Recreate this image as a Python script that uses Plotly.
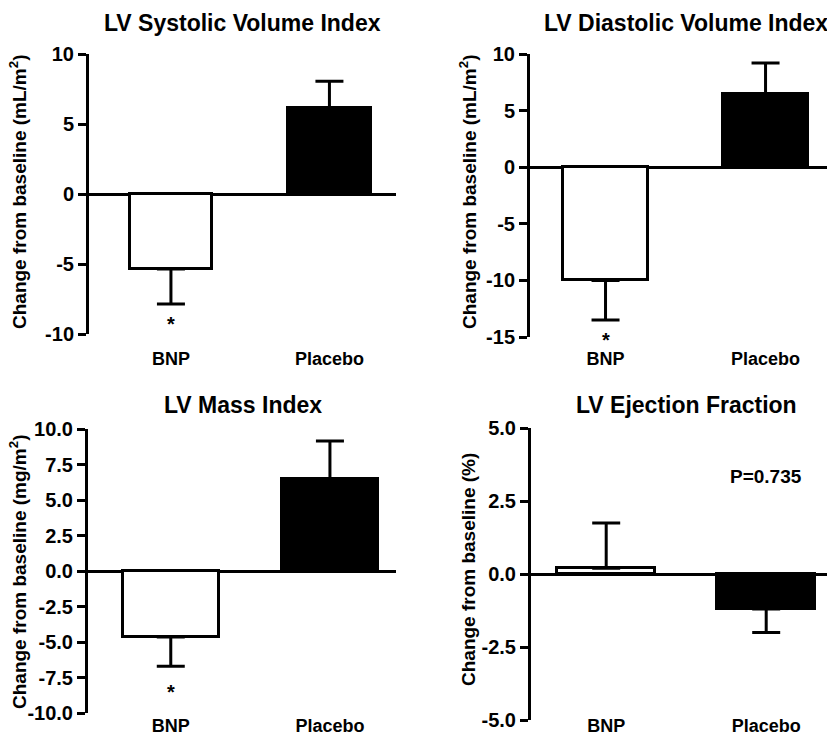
import numpy as np
import plotly.graph_objects as go

W, H = 827, 735

categories = ["BNP", "Placebo"]

titles = ["LV Systolic Volume Index", "LV Diastolic Volume Index",
          "LV Mass Index", "LV Ejection Fraction"]
ytitles = ["Change from baseline (mL/m<sup>2</sup>)",
           "Change from baseline (mL/m<sup>2</sup>)",
           "Change from baseline (mg/m<sup>2</sup>)",
           "Change from baseline (%)"]

systolic_mean = [-5.35, 6.15]
systolic_err = [2.5, 1.9]
diastolic_mean = [-10.0, 6.5]
diastolic_err = [3.5, 2.7]
mass_mean = [-4.65, 6.45]
mass_err = [2.05, 2.7]
ef_mean = [0.2, -1.2]
ef_err = [1.55, 0.8]

y_ranges = [[-10, 10], [-15, 10], [-10, 10], [-5, 5]]
y_dticks = [5, 5, 2.5, 2.5]
y_decimals = [0, 0, 1, 1]

p_text = "P=0.735"
p_y = 3.35

means = [systolic_mean, diastolic_mean, mass_mean, ef_mean]
errs = [systolic_err, diastolic_err, mass_err, ef_err]

# layout (pixel geometry); ast = asterisk pixel y (None = no asterisk)
panels = [
    dict(x0=89, x1=396, y0=54, y1=334, xr=[-0.517, 1.42], bw=0.52, so=12,
         tx=243, ty=23, ytx=18, yty=192, ast=324),
    dict(x0=530, x1=827, y0=54, y1=337, xr=[-0.472, 1.384], bw=0.53, so=9,
         tx=686, ty=23, ytx=468, yty=192, ast=340),
    dict(x0=88, x1=396, y0=429, y1=713, xr=[-0.52, 1.415], bw=0.6, so=0,
         tx=243, ty=405, ytx=18, yty=572, ast=692),
    dict(x0=531, x1=827, y0=428, y1=720, xr=[-0.47, 1.38], bw=0.61, so=-7,
         tx=686, ty=405, ytx=468, yty=570, ast=None),
]

FONT = "Liberation Sans, Arial, Helvetica, sans-serif"

fig = go.Figure()
annotations = []

for i, p in enumerate(panels):
    n = "" if i == 0 else str(i + 1)
    xa, ya = "x" + n, "y" + n
    m, e = means[i], errs[i]
    up = [ev if mv >= 0 else 0 for mv, ev in zip(m, e)]
    dn = [ev if mv < 0 else 0 for mv, ev in zip(m, e)]
    fig.add_trace(go.Bar(
        x=[0, 1], y=m, width=p["bw"],
        marker=dict(color=["white", "black"], line=dict(color="black", width=3)),
        error_y=dict(type="data", symmetric=False, array=up, arrayminus=dn,
                     color="black", thickness=3, width=14),
        xaxis=xa, yaxis=ya, showlegend=False, hoverinfo="skip",
    ))
    fig.layout["xaxis" + n] = dict(
        domain=[p["x0"] / W, p["x1"] / W], anchor=ya, range=p["xr"],
        tickvals=[0, 1], ticktext=[f"<b>{c}</b>" for c in categories],
        showline=False, showgrid=False, zeroline=False, automargin=False,
        ticks="", ticklabelstandoff=p["so"],
        tickfont=dict(family=FONT, size=18, color="black"), fixedrange=True,
    )
    lo, hi = y_ranges[i]
    tv = np.arange(lo, hi + y_dticks[i] / 2, y_dticks[i])
    tt = [f"{v:.{y_decimals[i]}f}" for v in tv]
    fig.layout["yaxis" + n] = dict(
        domain=[1 - p["y1"] / H, 1 - p["y0"] / H], anchor=xa,
        range=y_ranges[i], tickvals=list(tv), ticktext=tt,
        showline=True, linecolor="black", linewidth=3, automargin=False,
        ticks="outside", ticklen=8, tickwidth=3, tickcolor="black",
        showgrid=False, zeroline=True, zerolinecolor="black", zerolinewidth=3,
        tickfont=dict(family=FONT, size=20, color="black", weight="bold"),
        fixedrange=True,
    )
    annotations.append(dict(
        text=f"<b>{titles[i]}</b>", x=p["tx"] / W, y=1 - p["ty"] / H,
        xref="paper", yref="paper", showarrow=False, xanchor="center", yanchor="middle",
        font=dict(family=FONT, size=23, color="black"),
    ))
    annotations.append(dict(
        text=f"<b>{ytitles[i]}</b>", x=p["ytx"] / W, y=1 - p["yty"] / H,
        xref="paper", yref="paper", showarrow=False, textangle=-90,
        xanchor="center", yanchor="middle",
        font=dict(family=FONT, size=19, color="black"),
    ))
    if p["ast"] is not None:
        annotations.append(dict(
            text="<b>*</b>", x=0, y=1 - p["ast"] / H, xref=xa, yref="paper",
            showarrow=False, xanchor="center", yanchor="middle",
            font=dict(family=FONT, size=20, color="black"),
        ))

annotations.append(dict(
    text=f"<b>{p_text}</b>", x=1, y=p_y, xref="x4", yref="y4",
    showarrow=False, xanchor="center", yanchor="middle",
    font=dict(family=FONT, size=19, color="black"),
))

fig.update_layout(
    width=W, height=H,
    margin=dict(l=0, r=0, t=0, b=0, autoexpand=False),
    paper_bgcolor="white", plot_bgcolor="white",
    annotations=annotations,
    bargap=0,
)

fig.write_html("out.html", config={"displayModeBar": False},
               post_script="document.body.style.margin='0';document.body.style.padding='0';")
